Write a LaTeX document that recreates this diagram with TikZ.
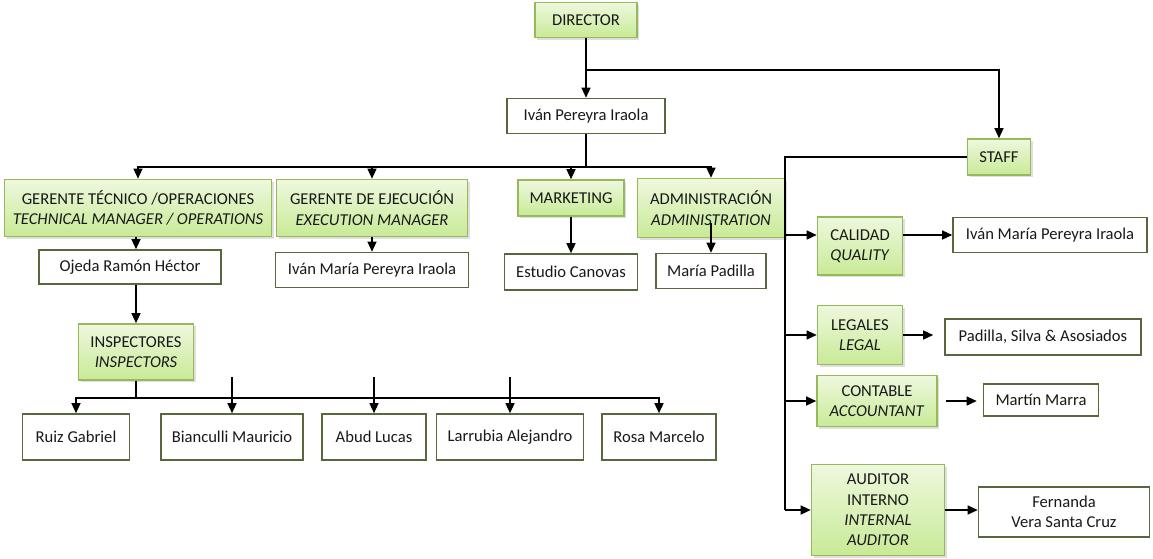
\documentclass[tikz,border=0pt]{standalone}
\usepackage{fontspec}
\setmainfont{Carlito}
\usetikzlibrary{shadows,arrows.meta,calc}
\definecolor{boxgreen}{RGB}{150,186,90}
\definecolor{boxtop}{RGB}{238,248,222}
\definecolor{boxbottom}{RGB}{200,234,150}
\definecolor{nameline}{RGB}{88,104,60}
\definecolor{inktext}{RGB}{25,25,25}
\newcommand{\orgfont}{\fontsize{8.3}{10.2}\selectfont}
\tikzstyle{greenbox}=[draw=boxgreen,line width=0.8pt,top color=boxtop,bottom color=boxbottom,drop shadow={opacity=0.25,shadow xshift=1pt,shadow yshift=-1pt},align=center,inner sep=1pt,font=\orgfont,text=inktext]
\tikzstyle{namebox}=[draw=nameline,line width=0.8pt,fill=white,align=center,inner sep=1pt,font=\orgfont,text=inktext]
\tikzstyle{edge}=[draw,line width=0.65pt,-{Triangle[length=5pt,width=4.5pt]}]
\tikzstyle{wire}=[draw,line width=0.65pt]

\begin{document}
\begin{tikzpicture}[x=0.5pt,y=-0.5pt]
    \useasboundingbox (0,0) rectangle (1153,558);

    % green boxes (positions)
    \foreach \pos/\name/\bw/\bh/\label in {
        {(586,20)/dir/51pt/17.5pt/{DIRECTOR}},
        {(999,157)/staff/31.5pt/18pt/{STAFF}},
        {(138,208)/gtec/133.5pt/28.5pt/{GERENTE TÉCNICO /OPERACIONES\\\textit{TECHNICAL MANAGER / OPERATIONS}}},
        {(372,208)/gej/95.5pt/28.5pt/{GERENTE DE EJECUCIÓN\\\textit{EXECUTION MANAGER}}},
        {(571,198)/mkt/53pt/18pt/{MARKETING}},
        {(711,208)/adm/73.5pt/29.5pt/{ADMINISTRACIÓN\\\textit{ADMINISTRATION}}},
        {(136,352)/insp/57.5pt/28pt/{INSPECTORES\\\textit{INSPECTORS}}},
        {(860,246)/cal/42.5pt/29pt/{CALIDAD\\\textit{QUALITY}}},
        {(860,335)/leg/42.5pt/29.5pt/{LEGALES\\\textit{LEGAL}}},
        {(877,401)/cont/60pt/25.5pt/{CONTABLE\\\textit{ACCOUNTANT}}},
        {(878,510)/aud/66.5pt/45.5pt/{AUDITOR\\INTERNO\\\textit{INTERNAL}\\\textit{AUDITOR}}}}
        \node[greenbox,minimum width=\bw,minimum height=\bh] (\name) at \pos {\label};

    % name boxes
    \foreach \pos/\name/\bw/\bh/\label in {
        {(586,116)/ivan/79pt/17.5pt/{Iván Pereyra Iraola}},
        {(130,267)/ojeda/91pt/17pt/{Ojeda Ramón Héctor}},
        {(372,270)/ivanb/96.5pt/17.5pt/{Iván María Pereyra Iraola}},
        {(571,272)/canovas/66.5pt/18pt/{Estudio Canovas}},
        {(711,271)/padilla/55pt/17.5pt/{María Padilla}},
        {(76,437)/ruiz/53.5pt/23pt/{Ruiz Gabriel}},
        {(232,437)/bianc/71pt/23pt/{Bianculli Mauricio}},
        {(374,437)/abud/52pt/23pt/{Abud Lucas}},
        {(510,437)/larr/73.5pt/23pt/{Larrubia Alejandro}},
        {(659,437)/rosa/57pt/23pt/{Rosa Marcelo}},
        {(1050,235)/ivanc/97pt/17.5pt/{Iván María Pereyra Iraola}},
        {(1043,337)/padc/98pt/18pt/{Padilla, Silva \& Asosiados}},
        {(1041,400)/marra/57.5pt/16pt/{Martín Marra}},
        {(1064,512)/fern/85.5pt/25pt/{Fernanda\\Vera Santa Cruz}}}
        \node[namebox,minimum width=\bw,minimum height=\bh] (\name) at \pos {\label};

    % director line and staff
    \draw[edge] (dir) -- (ivan);
    \coordinate (split) at (586,70);
    \draw[edge] (split) -| (staff);

    % managers
    \coordinate (bus) at (586,167);
    \draw[wire] (ivan) -- (bus);
    \foreach \dest in {gtec,gej,mkt,adm}
        \draw[edge] (bus) -| (\dest);
    \draw[edge] (gtec.south -| insp) -- (insp |- ojeda.north);
    \draw[edge] (insp |- ojeda.south) -- (insp);
    \draw[edge] (gej) -- (ivanb);
    \draw[edge] (mkt) -- (canovas);
    \draw[edge,shorten <=-7.5pt] (adm.south) -- (padilla);

    % inspectors
    \coordinate (ibus) at (136,398);
    \draw[wire] (insp) -- (ibus);
    \draw[edge] (ibus) -| (ruiz);
    \draw[edge] (ibus) -| (rosa);
    \foreach \name in {bianc,abud,larr}
        \draw[edge] ([yshift=18pt]\name.north) -- (\name);

    % staff units
    \coordinate (trunk) at (785,510);
    \coordinate (calin) at (785,235);
    \draw[wire] (staff) -| (trunk);
    \draw[edge] (calin) -- (calin -| cal.west);
    \draw[edge] (trunk |- leg) -- (leg);
    \draw[edge] (trunk |- cont) -- (cont);
    \draw[edge] (trunk) -- (aud);
    \draw[edge] (cal.east |- ivanc) -- (ivanc);
    \draw[edge,shorten >=5.5pt] (leg) -- (leg -| padc.west);
    \draw[edge,shorten <=4pt,shorten >=3pt] (cont) -- (cont -| marra.west);
    \draw[edge] (aud) -- (aud -| fern.west);
\end{tikzpicture}
\end{document}
